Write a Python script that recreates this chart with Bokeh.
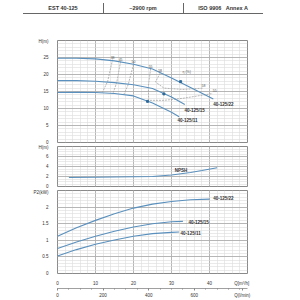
from bokeh.plotting import figure
from bokeh.models import Range1d, LinearAxis, FixedTicker, SingleIntervalTicker, Div
from bokeh.layouts import column
from bokeh.embed import file_html
from bokeh.resources import INLINE
from bokeh.core.properties import value

# ---------------- data ----------------
header_cells = ["EST 40-125", "~2900 rpm", "ISO 9906   Annex A"]
models = ["40-125/22", "40-125/15", "40-125/11"]

# Head curves  Q [m3/h] -> H [m]
q_h22 = [0, 5, 10, 15, 20, 25, 30, 35, 41]
h_22 = [24.8, 24.8, 24.6, 24.0, 23.0, 21.6, 19.0, 16.2, 12.8]
q_h15 = [0, 5, 10, 15, 20, 25, 30, 33.5]
h_15 = [18.2, 18.2, 18.0, 17.6, 17.0, 15.9, 13.4, 11.2]
q_h11 = [0, 5, 10, 15, 20, 25, 30, 32]
h_11 = [14.7, 14.8, 14.7, 14.4, 13.7, 11.6, 8.9, 7.6]

# best efficiency points
bep_q = [32.4, 28.0, 23.7]
bep_h = [17.9, 14.3, 12.1]

# iso-efficiency lines
eta_levels = ["38", "45", "50", "55", "58"]
eta_q = [[14.5, 13.2, 11.8],
         [16.6, 15.6, 14.6],
         [20.0, 18.6, 17.4],
         [24.5, 23.9, 24.0, 28.0, 33.0, 40.8],
         [27.0, 25.8, 28.0, 33.0, 38.4]]
eta_h = [[24.4, 18.0, 14.7],
         [23.8, 17.7, 14.4],
         [23.0, 17.0, 14.0],
         [21.7, 16.5, 12.4, 12.4, 13.0, 14.4],
         [20.4, 17.8, 16.0, 15.6, 16.0]]

# NPSH
q_npsh = [3, 10, 15, 20, 25, 30, 35, 38, 42]
npsh = [1.8, 1.85, 1.9, 1.95, 2.0, 2.3, 2.8, 3.2, 3.75]

# Power P2 [kW]
q_p22 = [0, 5, 10, 15, 20, 25, 30, 35, 40]
p_22 = [1.12, 1.38, 1.6, 1.8, 1.97, 2.09, 2.17, 2.22, 2.24]
q_p15 = [0, 5, 10, 15, 20, 25, 30, 33]
p_15 = [0.75, 0.95, 1.12, 1.27, 1.4, 1.5, 1.56, 1.57]
q_p11 = [0, 5, 10, 15, 20, 25, 30, 32]
p_11 = [0.53, 0.72, 0.88, 1.01, 1.12, 1.2, 1.24, 1.25]

q_ticks = [0, 10, 20, 30, 40]
lmin_ticks = [0, 200, 400, 600]
h_ticks = [0, 5, 10, 15, 20, 25]
npsh_ticks = [0, 2, 4, 6]
p_ticks = [0, 0.5, 1, 1.5, 2]

# ---------------- style ----------------
FONT = "Liberation Sans"
CURVE = "#5a90bd"
BEP = "#2f6a9a"
TXT = "#333333"

html = ['<div style="position:relative;width:300px;height:16px;font-family:\'Liberation Sans\',Arial,sans-serif;'
        'font-size:5.5px;font-weight:bold;color:#333;">']
html.append('<div style="position:absolute;left:23px;top:13px;width:240px;height:0;border-top:1px solid #666;"></div>')
for i, c in enumerate(header_cells):
    left = 23 + i * 80
    if i > 0:
        html.append('<div style="position:absolute;left:%dpx;top:3px;width:0;height:10px;border-left:1px solid #666;"></div>' % left)
    html.append('<div style="position:absolute;left:%dpx;top:5px;width:80px;text-align:center;white-space:pre;line-height:6px;">%s</div>' % (left, c))
html.append('</div>')
header = Div(text="".join(html), width=300, height=16, margin=0)


def make_fig(h, top, bottom, yr, yticks, top_tick, top_label, yint, yminor):
    p = figure(width=300, height=h, x_range=Range1d(0, 50), y_range=Range1d(*yr),
               output_backend="svg", toolbar_location=None,
               min_border_left=57, min_border_right=53,
               min_border_top=top, min_border_bottom=bottom)
    p.outline_line_color = "#8a8a8a"
    p.outline_line_width = 1
    p.background_fill_color = "white"
    p.border_fill_color = "white"
    p.xgrid.ticker = SingleIntervalTicker(interval=10, num_minor_ticks=5)
    p.ygrid.ticker = SingleIntervalTicker(interval=yint, num_minor_ticks=yminor)
    for g in (p.xgrid, p.ygrid):
        g.grid_line_color = "#a8a8a8"
        g.grid_line_width = 0.8
        g.minor_grid_line_color = "#dcdcdc"
        g.minor_grid_line_width = 0.6
    ya = p.yaxis[0]
    ya.ticker = FixedTicker(ticks=yticks + [top_tick])
    ya.major_label_overrides = {top_tick: top_label}
    ya.axis_line_color = None
    ya.major_tick_line_color = None
    ya.minor_tick_line_color = None
    ya.major_label_standoff = 3
    ya.major_label_text_font_size = "4.5px"
    ya.major_label_text_font = FONT
    ya.major_label_text_color = TXT
    return p


# ---------- Head chart ----------
p1 = make_fig(128, 24, 2, (0, 30), h_ticks, 29.6, "H(m)", 5, 5)
p1.xaxis.visible = False
for qs, hs in zip(eta_q, eta_h):
    p1.line(qs, hs, line_color="#9a9a9a", line_width=0.7, line_dash="2 1")
for qs, hs in ((q_h22, h_22), (q_h15, h_15), (q_h11, h_11)):
    p1.line(qs, hs, line_color=CURVE, line_width=1.1)
p1.scatter(bep_q, bep_h, marker="square", size=2, color=BEP)
p1.text([e[0] for e in eta_q], [e[0] + 0.7 for e in eta_h], text=eta_levels,
        text_font=value(FONT), text_font_size="3.5px", text_color="#555",
        text_align="center", text_baseline="middle")
p1.text([eta_q[3][-1] + 0.6, eta_q[4][-1]], [eta_h[3][-1] + 0.8, eta_h[4][-1] + 0.8], text=["55", "58"],
        text_font=value(FONT), text_font_size="3.5px", text_color="#555",
        text_align="center", text_baseline="middle")
p1.text([34.0], [20.6], text=["η (%)"], text_font=value(FONT), text_font_size="3.5px",
        text_color="#555", text_align="center", text_baseline="middle")
p1.text([41.0, 33.4, 31.6], [11.3, 9.4, 6.5], text=models,
        text_font=value(FONT), text_font_size="4.5px", text_font_style="bold",
        text_color=TXT, text_align="left", text_baseline="middle")

# ---------- NPSH chart ----------
p2 = make_fig(44, 2, 2, (0, 8), npsh_ticks, 7.8, "H(m)", 2, 4)
p2.xaxis.visible = False
p2.line(q_npsh, npsh, line_color=CURVE, line_width=1.1)
p2.text([32.5], [3.3], text=["NPSH"], text_font=value(FONT), text_font_size="4.5px",
        text_font_style="bold", text_color=TXT, text_align="center", text_baseline="middle")

# ---------- Power chart ----------
p3 = make_fig(112, 2, 25, (0, 2.5), p_ticks, 2.45, "P2(kW)", 0.5, 5)
for qs, ps in ((q_p22, p_22), (q_p15, p_15), (q_p11, p_11)):
    p3.line(qs, ps, line_color=CURVE, line_width=1.1)
p3.text([41.0, 34.5, 32.4], [2.26, 1.53, 1.21], text=models,
        text_font=value(FONT), text_font_size="4.5px", text_font_style="bold",
        text_color=TXT, text_align="left", text_baseline="middle")

xa = p3.xaxis[0]
xa.ticker = FixedTicker(ticks=q_ticks + [48.5])
xa.major_label_overrides = {48.5: "Q[m³/h]"}
xa.axis_line_color = None
xa.major_tick_line_color = None
xa.minor_tick_line_color = None
xa.major_label_standoff = 1
xa.major_label_text_font_size = "4.5px"
xa.major_label_text_font = FONT
xa.major_label_text_color = TXT

p3.extra_x_ranges = {"lmin": Range1d(0, 50 * 1000 / 60)}
ax2 = LinearAxis(x_range_name="lmin",
                 ticker=FixedTicker(ticks=lmin_ticks + [810], minor_ticks=list(range(0, 801, 50))))
ax2.major_label_overrides = {810: "Q(l/min)"}
ax2.axis_line_color = "#888888"
ax2.axis_line_width = 0.8
ax2.major_tick_line_color = "#888888"
ax2.minor_tick_line_color = "#888888"
ax2.major_tick_in = 0
ax2.major_tick_out = 2
ax2.minor_tick_in = 0
ax2.minor_tick_out = 1
ax2.major_label_standoff = 2
ax2.major_label_text_font_size = "4.5px"
ax2.major_label_text_font = FONT
ax2.major_label_text_color = TXT
p3.add_layout(ax2, "below")

layout = column(header, p1, p2, p3, spacing=0)
open("out.html", "w").write(file_html(layout, INLINE))
